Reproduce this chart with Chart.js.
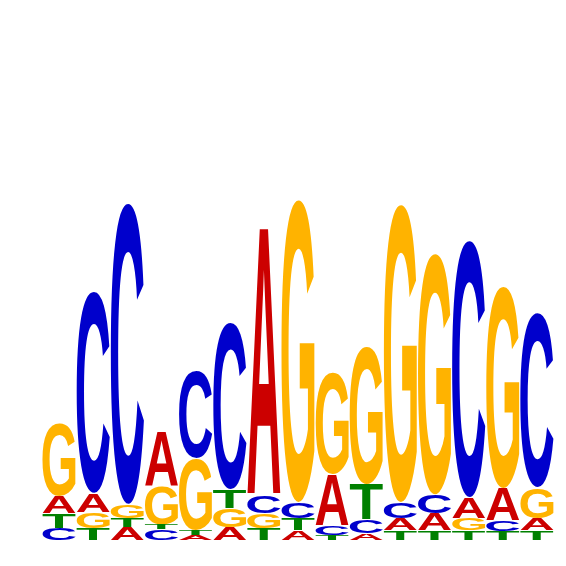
<!DOCTYPE html>
<html>
<head>
<meta charset="utf-8">
<script src="https://cdn.jsdelivr.net/npm/chart.js@4/dist/chart.umd.min.js"></script>
<style>html,body{margin:0;padding:0;background:#fff}</style>
</head>
<body>
<canvas id="logo" width="566" height="566"></canvas>
<script>
var positions = ['1','2','3','4','5','6','7','8','9','10','11','12','13','14','15'];
var bitsA = [0.065, 0.073, 0.050, 0.212, 0.019, 0.050, 1.027, 0.038, 0.196, 0.027, 0.046, 0.065, 0.081, 0.123, 0.046];
var bitsC = [0.046, 0.777, 1.158, 0.042, 0.338, 0.642, 0.069, 0.062, 0.038, 0.054, 0.062, 0.073, 0.988, 0.042, 0.673];
var bitsG = [0.281, 0.062, 0.054, 0.146, 0.277, 0.073, 0.058, 1.165, 0.392, 0.531, 1.146, 0.927, 0.046, 0.777, 0.119];
var bitsT = [0.058, 0.046, 0.035, 0.019, 0.019, 0.073, 0.046, 0.046, 0.019, 0.135, 0.038, 0.038, 0.038, 0.035, 0.038];
// letters from bottom to top in every column
var stackOrder = ['CTAG','TGAC','ATGC','CTGA','ATGC','AGTC','TGCA','ATCG','TCAG','ACTG','TACG','TACG','TGAC','TCAG','TAGC'];

var heights = {A: bitsA, C: bitsC, G: bitsG, T: bitsT};
var letterColors = {A: '#CC0000', C: '#0000CC', G: '#FFB300', T: '#008000'};

function floatingBars(letter){
	var out = [];
	for(var i=0;i<positions.length;i++){
		var bottom = 0;
		var order = stackOrder[i];
		for(var k=0;k<order.length;k++){
			var l = order[k];
			var h = heights[l][i];
			if(l === letter){
				out.push([bottom, bottom + h]);
				break;
			}
			bottom += h;
		}
	}
	return out;
}

function drawLetter(ctx, letter, x, y, w, h, color){
	ctx.save();
	ctx.font = 'bold 200px "Liberation Sans"';
	var m = ctx.measureText(letter);
	var gw = m.actualBoundingBoxLeft + m.actualBoundingBoxRight;
	var gh = m.actualBoundingBoxAscent + m.actualBoundingBoxDescent;
	ctx.translate(x, y);
	ctx.scale(w / gw, h / gh);
	ctx.fillStyle = color;
	ctx.textBaseline = 'alphabetic';
	ctx.fillText(letter, m.actualBoundingBoxLeft, m.actualBoundingBoxAscent);
	ctx.restore();
}

var letterPlugin = {
	id: 'letters',
	afterDatasetsDraw: function(chart){
		var ctx = chart.ctx;
		chart.data.datasets.forEach(function(ds, di){
			var meta = chart.getDatasetMeta(di);
			meta.data.forEach(function(bar){
				var p = bar.getProps(['x','y','base','width'], true);
				var top = Math.min(p.y, p.base);
				var h = Math.abs(p.base - p.y);
				if(h < 0.5) return;
				drawLetter(ctx, ds.label, p.x - p.width/2, top + 0.5, p.width, h - 0.5, letterColors[ds.label]);
			});
		});
	}
};

var datasets = ['A','C','G','T'].map(function(l){
	return {
		label: l,
		data: floatingBars(l),
		backgroundColor: 'rgba(0,0,0,0)',
		borderWidth: 0,
		grouped: false,
		barPercentage: 0.97,
		categoryPercentage: 1.0
	};
});

var ctx = document.getElementById('logo');
var myChart = new Chart(ctx, {
	type: 'bar',
	data: {
		labels: positions,
		datasets: datasets
	},
	options: {
		responsive: false,
		animation: false,
		layout: {padding: {left: 42, right: 12, top: 20, bottom: 26}},
		plugins: {legend: {display: false}, tooltip: {enabled: false}},
		scales: {
			x: {display: false},
			y: {display: false, min: 0, max: 2}
		}
	},
	plugins: [letterPlugin]
});
</script>
</body>
</html>
